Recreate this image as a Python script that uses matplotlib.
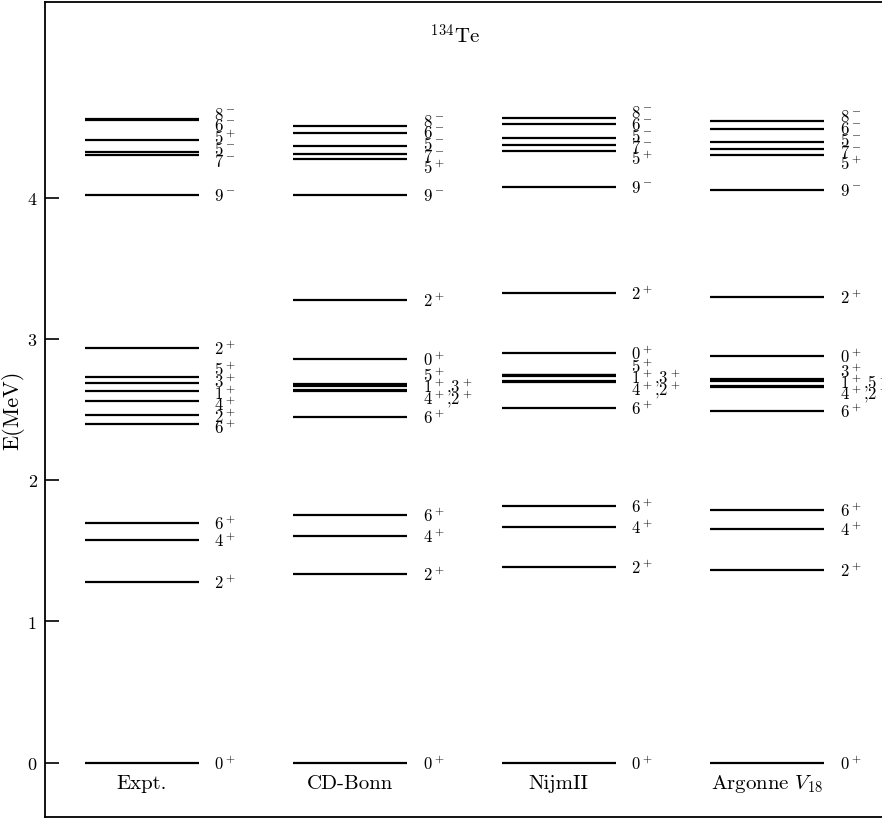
import matplotlib
matplotlib.use("Agg")
import matplotlib.pyplot as plt

plt.rcParams['font.family'] = 'serif'
plt.rcParams['font.serif'] = ['cmr10']
plt.rcParams['mathtext.fontset'] = 'cm'
plt.rcParams['axes.formatter.use_mathtext'] = True

columns = ['Expt.', 'CD-Bonn', 'NijmII', r'Argonne $V_{18}$']

expt_E = [0.0, 1.279, 1.576, 1.695, 2.400, 2.461, 2.558, 2.634, 2.686, 2.733, 2.936,
          4.016, 4.305, 4.324, 4.406, 4.550, 4.557]
expt_L = ['0^+', '2^+', '4^+', '6^+', '6^+', '2^+', '4^+', '1^+', '3^+', '5^+', '2^+',
          '9^-', '7^-', '5^-', '5^+', '6^-', '8^-']

cdb_E = [0.0, 1.333, 1.603, 1.752, 2.449, 2.630, 2.636, 2.668, 2.675, 2.682, 2.858, 3.277,
         4.016, 4.270, 4.307, 4.364, 4.457, 4.505]
cdb_L = ['0^+', '2^+', '4^+', '6^+', '6^+', '4^+{,}2^+', '', '1^+{,}3^+', '', '5^+', '0^+', '2^+',
         '9^-', '5^+', '7^-', '5^-', '6^-', '8^-']

nij_E = [0.0, 1.383, 1.667, 1.816, 2.513, 2.696, 2.702, 2.735, 2.741, 2.747, 2.901, 3.326,
         4.073, 4.330, 4.371, 4.424, 4.519, 4.567]
nij_L = ['0^+', '2^+', '4^+', '6^+', '6^+', '4^+{,}2^+', '', '1^+{,}3^+', '', '5^+', '0^+', '2^+',
         '9^-', '5^+', '7^-', '5^-', '6^-', '8^-']

arg_E = [0.0, 1.362, 1.652, 1.787, 2.487, 2.659, 2.665, 2.703, 2.709, 2.715, 2.882, 3.298,
         4.052, 4.300, 4.343, 4.394, 4.483, 4.540]
arg_L = ['0^+', '2^+', '4^+', '6^+', '6^+', '4^+{,}2^+', '', '1^+{,}5^+', '', '3^+', '0^+', '2^+',
         '9^-', '5^+', '7^-', '5^-', '6^-', '8^-']

all_E = [expt_E, cdb_E, nij_E, arg_E]
all_L = [expt_L, cdb_L, nij_L, arg_L]


def spread(vals, gap):
    # cluster-based label de-overlapping, keeps each cluster centred on its mean
    clusters = [[v] for v in vals]

    def layout(c):
        m = sum(c) / len(c)
        start = m - gap * (len(c) - 1) / 2
        return [start + gap * k for k in range(len(c))]

    changed = True
    while changed:
        changed = False
        cl_pos = [layout(c) for c in clusters]
        for i in range(len(clusters) - 1):
            if cl_pos[i + 1][0] - cl_pos[i][-1] < gap - 1e-9:
                clusters[i] = clusters[i] + clusters[i + 1]
                del clusters[i + 1]
                changed = True
                break
    out = []
    for c in clusters:
        out += layout(c)
    return out


fig = plt.figure(figsize=(8.82, 8.2), dpi=100)
ax = fig.add_axes([45 / 882, 2 / 820, 1 - 45 / 882, 815 / 820])

half_w = 0.273
lab_off = 0.075
gap = 0.082

for i, (E, L) in enumerate(zip(all_E, all_L)):
    for e in E:
        ax.plot([i - half_w, i + half_w], [e, e], color='black', lw=1.6,
                solid_capstyle='butt')
    pairs = sorted([(e, l) for e, l in zip(E, L) if l != ''])
    ys = spread([p[0] for p in pairs], gap)
    for (e, l), y in zip(pairs, ys):
        ax.text(i + half_w + lab_off, y, '$' + l + '$', fontsize=12,
                va='center', ha='left')
    ax.text(i, -0.145, columns[i], fontsize=15, ha='center', va='center')

ax.text(1.5, 5.15, r'$^{134}\mathrm{Te}$', fontsize=15, ha='center', va='center')

ax.set_xlim(-0.465, 3.55)
ax.set_ylim(-0.385, 5.385)
ax.set_xticks([])
ax.set_yticks([0, 1, 2, 3, 4])
ax.set_yticklabels(['0', '1', '2', '3', '4'])
ax.tick_params(axis='y', direction='in', length=10, width=1.2, labelsize=13, pad=6)
ax.spines['right'].set_visible(False)
for s in ['left', 'top', 'bottom']:
    ax.spines[s].set_linewidth(1.3)
ax.set_ylabel('E(MeV)', fontsize=16, labelpad=2)

fig.savefig('out.png', dpi=100)
